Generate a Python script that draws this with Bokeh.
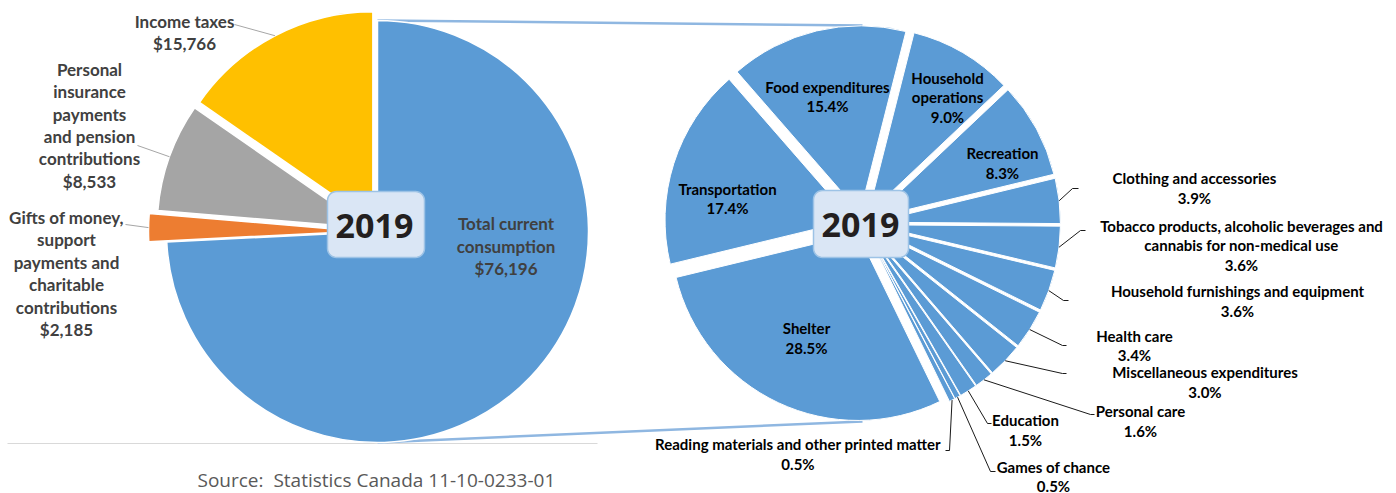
import math
from bokeh.plotting import figure
from bokeh.models import Range1d, ColumnDataSource
from bokeh.core.properties import value
from bokeh.embed import file_html
from bokeh.resources import INLINE

# ---------------- data ----------------
left_categories = [
    "Total current consumption",
    "Gifts of money, support payments and charitable contributions",
    "Personal insurance payments and pension contributions",
    "Income taxes",
]
left_values = [76196, 2185, 8533, 15766]

right_categories = [
    "Shelter", "Transportation", "Food expenditures", "Household operations",
    "Recreation", "Clothing and accessories",
    "Tobacco products, alcoholic beverages and cannabis for non-medical use",
    "Household furnishings and equipment", "Health care",
    "Miscellaneous expenditures", "Personal care", "Education",
    "Games of chance", "Reading materials and other printed matter",
]
right_values = [28.5, 17.4, 15.4, 9.0, 8.3, 3.9, 3.6, 3.6, 3.4, 3.0, 1.6, 1.5, 0.5, 0.5]

year_label = "2019"
source_note = "Source:\u00a0 Statistics Canada 11-10-0233-01"

# ---------------- layout / style ----------------
W, H = 1396, 493
def X(xi):  # image px -> data
    return xi
def Y(yi):
    return H - yi

left_colors = ["#5B9BD5", "#ED7D31", "#A5A5A5", "#FFC000"]
right_color = "#5B9BD5"

L_CX, L_CY, L_R = 377, 231, 211
L_START = 0.0
L_EXPLODE = [0, 18, 10, 10]

R_CX, R_CY, R_R = 862, 223, 187
R_START = 154.0
R_EXPLODE = [11] * len(right_values)

# label text wrapping (display only)
left_wrap = [["Total current", "consumption"],
             ["Gifts of money,", "support", "payments and", "charitable", "contributions"],
             ["Personal", "insurance", "payments", "and pension", "contributions"],
             ["Income taxes"]]
right_wrap = [["Shelter"], ["Transportation"], ["Food expenditures"], ["Household", "operations"],
              ["Recreation"], ["Clothing and accessories"],
              ["Tobacco products, alcoholic beverages and", "cannabis for non-medical use"],
              ["Household furnishings and equipment"], ["Health care"],
              ["Miscellaneous expenditures"], ["Personal care"], ["Education"],
              ["Games of chance"], ["Reading materials and other printed matter"]]

# label placement (image coords: center x, first line center y, line spacing)
left_label_pos = [(505.5, 223, 22.5), (66, 217, 22.4), (89, 69, 22.3), (184, 21, 22.0)]
right_label_pos = [(806, 327, 20), (727, 188, 19.5), (827, 86, 19.5), (947, 77, 19.5),
                   (1002, 152, 20), (1194, 177, 20.5), (1241, 225, 19.5), (1237, 290, 20),
                   (1134, 335, 19), (1204.5, 371, 20), (1140, 410, 20), (1025, 419, 20.5),
                   (1053, 466, 19.0), (797.5, 443, 20)]

# leader lines: label-side points (image coords); None = no leader
left_leader_ends = [None, [(125, 224)], [(137, 145)], [(234, 24)]]
right_leader_ends = [None, None, None, None, None,
                     [(1072, 188), (1078, 188)],
                     [(1080, 230), (1085, 230)],
                     [(1063, 300), (1068, 300)],
                     [(1062, 345), (1066, 345)],
                     [(1062, 373), (1066, 373)],
                     [(1090, 414), (1094, 414)],
                     [(987, 423), (991, 423)],
                     [(990, 471), (995, 471)],
                     [(949, 450), (945, 450)]]


def pie_rows(values, start_deg, cx, cy, r, explode):
    total = float(sum(values))
    a = start_deg
    xs, ys, sa, ea, mids, ox, oy = [], [], [], [], [], [], []
    for v, ex in zip(values, explode):
        span = 360.0 * v / total
        a0, a1 = a, a + span
        mid = math.radians((a0 + a1) / 2)
        x0 = X(cx) + ex * math.sin(mid)
        y0 = Y(cy) + ex * math.cos(mid)
        xs.append(x0); ys.append(y0)
        sa.append(math.radians(90 - a1)); ea.append(math.radians(90 - a0))
        mids.append(mid)
        ox.append(x0 + r * math.sin(mid)); oy.append(y0 + r * math.cos(mid))
        a = a1
    return xs, ys, sa, ea, mids, ox, oy


p = figure(width=W, height=H, x_range=Range1d(0, W), y_range=Range1d(0, H),
           toolbar_location=None, output_backend="svg", min_border=0,
           x_axis_location=None, y_axis_location=None)
p.grid.visible = False
p.outline_line_color = None
p.background_fill_color = "white"
p.border_fill_color = "white"

# baseline rule under the left chart
p.line(x=[X(7), X(597)], y=[Y(443), Y(443)], line_color="#D9D9D9", line_width=1)

# connector lines between the pies
p.line(x=[X(L_CX), X(R_CX)], y=[Y(L_CY - L_R), Y(R_CY - R_R - R_EXPLODE[0])],
       line_color="#8FB7E1", line_width=2.5)
p.line(x=[X(L_CX), X(R_CX)], y=[Y(L_CY + L_R), Y(R_CY + R_R + R_EXPLODE[0])],
       line_color="#8FB7E1", line_width=2.5)

# left pie
lx, ly, lsa, lea, lmid, lox, loy = pie_rows(left_values, L_START, L_CX, L_CY, L_R, L_EXPLODE)
lsrc = ColumnDataSource(dict(x=lx, y=ly, s=lsa, e=lea, c=left_colors, cat=left_categories, v=left_values))
p.wedge(x="x", y="y", radius=L_R, start_angle="s", end_angle="e", fill_color="c",
        line_color="white", line_width=1.5, source=lsrc)

# right pie
rx, ry, rsa, rea, rmid, rox, roy = pie_rows(right_values, R_START, R_CX, R_CY, R_R, R_EXPLODE)
rsrc = ColumnDataSource(dict(x=rx, y=ry, s=rsa, e=rea, cat=right_categories, v=right_values))
p.wedge(x="x", y="y", radius=R_R, start_angle="s", end_angle="e", fill_color=right_color,
        line_color="white", line_width=1, source=rsrc)

# leader lines
for i, ends in enumerate(left_leader_ends):
    if ends:
        xs = [lox[i]] + [X(a) for a, b in ends]
        ys = [loy[i]] + [Y(b) for a, b in ends]
        p.line(x=xs, y=ys, line_color="#A6A6A6", line_width=1)
for i, ends in enumerate(right_leader_ends):
    if ends:
        xs = [rox[i]] + [X(a) for a, b in ends]
        ys = [roy[i]] + [Y(b) for a, b in ends]
        p.line(x=xs, y=ys, line_color="#1A1A1A", line_width=1)

# labels
def add_label(lines, pos, size, color):
    cx, y0, sp = pos
    p.text(x=[X(cx)] * len(lines), y=[Y(y0 + i * sp) for i in range(len(lines))], text=lines,
           text_font=value("Lato"), text_font_style="bold", text_font_size=size,
           text_color=color, text_align="center", text_baseline="middle")

for wrap, v, pos in zip(left_wrap, left_values, left_label_pos):
    add_label(wrap + ["${:,}".format(v)], pos, "17px", "#404040")
for wrap, v, pos in zip(right_wrap, right_values, right_label_pos):
    add_label(wrap + ["{:.1f}%".format(v)], pos, "15px", "#000000")

# year boxes
def rounded_box(cx, cy, w, h, rad, n=8):
    xs, ys = [], []
    corners = [(cx + w / 2 - rad, cy - h / 2 + rad, -90, 0),
               (cx + w / 2 - rad, cy + h / 2 - rad, 0, 90),
               (cx - w / 2 + rad, cy + h / 2 - rad, 90, 180),
               (cx - w / 2 + rad, cy - h / 2 + rad, 180, 270)]
    for (ccx, ccy, a0, a1) in corners:
        for k in range(n + 1):
            t = math.radians(a0 + (a1 - a0) * k / n)
            xs.append(ccx + rad * math.cos(t)); ys.append(ccy + rad * math.sin(t))
    return xs, ys

for (bx, by, bw, bh, tx, ty) in [(375.5, 224, 97, 66, 374, 225), (860.5, 223.5, 95, 67, 860, 224)]:
    xs, ys = rounded_box(X(bx), Y(by), bw, bh, 9)
    p.patch(x=xs, y=ys, fill_color="#DAE6F5", line_color="#9DC3E6", line_width=1.5)
    p.text(x=[X(tx)], y=[Y(ty)], text=[year_label], text_font=value("Open Sans"),
           text_font_style="bold", text_font_size="34px", text_color="#231F20",
           text_align="center", text_baseline="middle")

# source note
p.text(x=[X(197)], y=[Y(492)], text=[source_note], text_font=value("Open Sans"),
       text_font_size="19px", text_color="#595959", text_align="left",
       text_baseline="bottom")

open("out.html", "w").write(file_html(p, INLINE))
